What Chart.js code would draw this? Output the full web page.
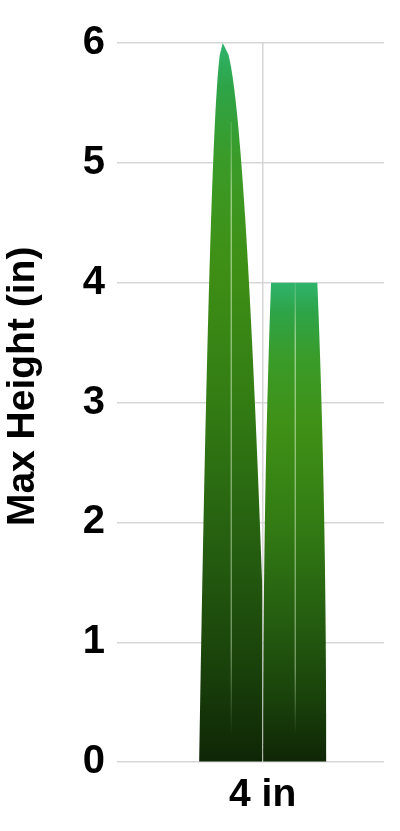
<!DOCTYPE html>
<html>
<head>
<meta charset="utf-8">
<script src="https://cdn.jsdelivr.net/npm/chart.js@4.4.1/dist/chart.umd.min.js"></script>
<style>
  html,body{margin:0;padding:0;background:#fff;overflow:hidden}
  #wrap{width:400px;height:831px;position:relative}
</style>
</head>
<body>
<div id="wrap"><canvas id="chart"></canvas></div>
<script>
// data
const categories = ['4 in']
const grownHeights = [6]   // blade left to grow
const cutHeights = [4]     // blade cut flat
const yTicks = [0, 1, 2, 3, 4, 5, 6]

const FONT = 'Liberation Sans'
const GRID = '#d6d6d6'

// blade colours, top of blade -> base
const bladeStops = [
  [0, '#2fb46c'], [0.06, '#2ea448'], [0.16, '#3a9b28'], [0.3, '#3f9016'],
  [0.5, '#337c14'], [0.7, '#255e10'], [0.86, '#1a430b'], [1, '#0f2606']
]

// draw each bar as a grass blade, using the bar element geometry
const bladePlugin = {
  id: 'blades',
  afterDatasetsDraw(chart){
    const ctx = chart.ctx
    const ys = chart.scales.y
    const allVals = chart.data.datasets.flatMap(d => d.data.map(p => p.y))
    const tallest = Math.max(...allVals)
    const tipY = ys.getPixelForValue(tallest)
    chart.data.datasets.forEach((ds, di) => {
      chart.getDatasetMeta(di).data.forEach((bar, i) => {
        const p = bar.getProps(['x','y','base','width'], true)
        const x0 = p.x - p.width/2 + 0.5, w = p.width - 1
        const pointed = ds.data[i].y >= tallest
        drawBlade(ctx, x0, w, p.base, pointed ? tipY : p.y, pointed)
      })
    })
  }
}

function drawBlade(ctx, x0, w, base, top, pointed){
  const H = base - top
  const n = 60
  const left = [], right = []
  for(let k=0;k<=n;k++){
    const t = k/n, yy = base - t*H
    let l, r
    if(pointed){
      const s = Math.sqrt(1 - t)
      l = 0.375 - 0.375*s
      r = 0.375 + Math.min(0.625, 0.72*s)
    } else {
      const s = Math.pow(t, 2.2)
      l = 0.125*s
      r = 1 - 0.14*s
    }
    left.push([x0 + l*w, yy]); right.push([x0 + r*w, yy])
  }
  ctx.save()
  ctx.beginPath()
  ctx.moveTo(left[0][0], left[0][1])
  left.forEach(pt => ctx.lineTo(pt[0], pt[1]))
  for(let k=right.length-1;k>=0;k--) ctx.lineTo(right[k][0], right[k][1])
  ctx.closePath()
  const g = ctx.createLinearGradient(0, top, 0, base)
  bladeStops.forEach(s => g.addColorStop(s[0], s[1]))
  ctx.fillStyle = g
  ctx.fill()

  // pale centre vein
  const vx = x0 + w*0.51
  const vTop = pointed ? top + H*0.11 : top
  const vBot = base - 26
  const vg = ctx.createLinearGradient(0, vTop, 0, vBot)
  vg.addColorStop(0, 'rgba(215,240,200,0.15)')
  vg.addColorStop(0.12, 'rgba(215,240,200,0.6)')
  vg.addColorStop(0.85, 'rgba(215,240,200,0.45)')
  vg.addColorStop(1, 'rgba(215,240,200,0)')
  ctx.strokeStyle = vg
  ctx.lineWidth = 1.4
  ctx.beginPath(); ctx.moveTo(vx, vTop); ctx.lineTo(vx, vBot); ctx.stroke()
  ctx.restore()
}

const ctx = document.getElementById('chart').getContext('2d')
new Chart(ctx, {
  type: 'bar',
  data: {
    datasets: [
      { label: 'Grown', data: categories.map((c,i)=>({x:i, y:grownHeights[i]})),
        backgroundColor: 'rgba(0,0,0,0)', borderWidth: 0, barThickness: 64 },
      { label: 'Cut', data: categories.map((c,i)=>({x:i, y:cutHeights[i]})),
        backgroundColor: 'rgba(0,0,0,0)', borderWidth: 0, barThickness: 64 }
    ]
  },
  options: {
    responsive: true,
    maintainAspectRatio: false,
    animation: false,
    layout: { padding: { top: 43, right: 16, bottom: 2, left: 0 } },
    plugins: { legend: { display: false }, tooltip: { enabled: false } },
    scales: {
      x: {
        type: 'linear', min: -0.6, max: 0.5, offset: false,
        afterBuildTicks: axis => { axis.ticks = categories.map((c,i)=>({value:i})) },
        ticks: { callback: v => categories[v], color: '#000', padding: 10,
                 font: { family: FONT, size: 39, weight: 'bold' } },
        grid: { color: GRID, lineWidth: 1.5, drawTicks: false, offset: false },
        border: { display: false }
      },
      y: {
        min: 0, max: 6,
        afterBuildTicks: axis => { axis.ticks = yTicks.map(v=>({value:v})) },
        ticks: { color: '#000', padding: 12,
                 font: { family: FONT, size: 40, weight: 'bold' } },
        grid: { color: GRID, lineWidth: 1.5, drawTicks: false },
        border: { display: false },
        title: { display: true, text: '   Max Height (in)', color: '#000',
                 padding: { top: 0, bottom: 24 },
                 font: { family: FONT, size: 39, weight: 'bold' } }
      }
    }
  },
  plugins: [bladePlugin]
})
</script>
</body>
</html>
